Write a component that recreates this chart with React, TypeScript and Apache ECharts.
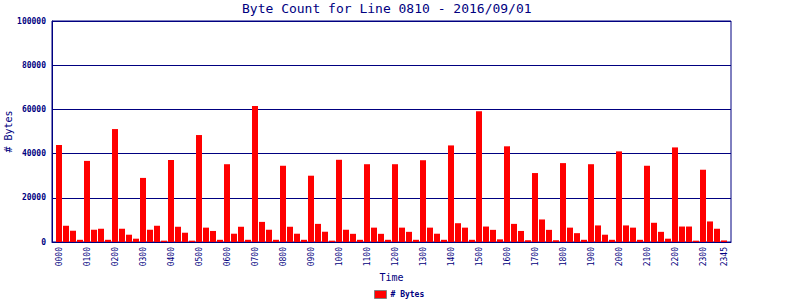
import React, { useEffect, useRef } from "react";
import * as echarts from "echarts";

const NAVY = "#000080";
const RED = "#ff0000";
const FONT = "DejaVu Sans Mono";

const titleText = "Byte Count for Line 0810 - 2016/09/01";
const seriesName = "# Bytes";

const hours = ["00","01","02","03","04","05","06","07","08","09","10","11","12","13","14","15","16","17","18","19","20","21","22","23"];
const quarters = ["00","15","30","45"];

// bytes per 15-minute interval, grouped by hour
const byteCounts: number[] = [
  43900, 7350, 5100, 1000,
  36700, 5550, 6000, 1000,
  51100, 6000, 3300, 1500,
  29000, 5550, 7350, 600,
  37100, 6900, 4200, 600,
  48400, 6500, 5000, 1000,
  35200, 3750, 6900, 1000,
  61500, 9100, 5550, 1000,
  34500, 6900, 3750, 1000,
  30000, 8200, 4650, 600,
  37200, 5550, 3700, 1000,
  35200, 6500, 3700, 1000,
  35200, 6500, 4600, 1000,
  37000, 6500, 3750, 1000,
  43700, 8500, 6500, 1000,
  59200, 7000, 5500, 1200,
  43300, 8200, 5000, 800,
  31200, 10200, 5500, 800,
  35700, 6500, 4000, 1000,
  35200, 7500, 3300, 1000,
  41000, 7500, 6500, 1000,
  34500, 8700, 4600, 1500,
  42800, 7000, 7000, 600,
  32700, 9300, 6000, 700,
];

const yMin = 0;
const yMax = 100000;
const yStep = 20000;

const times: string[] = [];
hours.forEach((h) => quarters.forEach((q) => times.push(h + q)));

export default function App() {
  const ref = useRef<HTMLDivElement>(null);
  useEffect(() => {
    if (!ref.current) return;
    const chart = echarts.init(ref.current, null, { renderer: "svg" });
    // one empty slot on each side, as in the reference
    const cats = ["", ...times, ""];
    const vals: (number | string)[] = ["-", ...byteCounts, "-"];
    const last = times.length;
    chart.setOption({
      animation: false,
      backgroundColor: "#ffffff",
      title: {
        text: titleText,
        left: 242,
        top: 0,
        padding: [2, 0, 0, 0],
        textStyle: { fontFamily: FONT, fontSize: 13, fontWeight: "normal", color: NAVY },
      },
      legend: {
        data: [seriesName],
        left: 374,
        top: 290,
        padding: 0,
        itemWidth: 12,
        itemHeight: 8,
        icon: "rect",
        itemStyle: { color: RED, borderColor: "#808080", borderWidth: 1 },
        textStyle: { fontFamily: FONT, fontSize: 8, fontWeight: "bold", color: NAVY, padding: [0, 0, 0, -1] },
      },
      grid: {
        left: 52,
        top: 21,
        width: 679,
        height: 221,
        containLabel: false,
        outerBoundsMode: "none",
        show: true,
        borderColor: NAVY,
        borderWidth: 1,
        backgroundColor: "transparent",
      },
      xAxis: {
        type: "category",
        data: cats,
        boundaryGap: false,
        name: "Time",
        nameLocation: "middle",
        nameGap: 30,
        nameMoveOverlap: false,
        nameTextStyle: { fontFamily: FONT, fontSize: 10, color: NAVY },
        axisLine: { lineStyle: { color: NAVY, width: 1 } },
        axisTick: { show: false },
        splitLine: { show: false },
        axisLabel: {
          rotate: 90,
          margin: 5,
          fontFamily: FONT,
          fontSize: 8,
          color: NAVY,
          interval: (i: number) => (i >= 1 && (i - 1) % 4 === 0) || i === last,
        },
      },
      yAxis: {
        type: "value",
        min: yMin,
        max: yMax,
        interval: yStep,
        name: seriesName,
        nameLocation: "middle",
        nameGap: 39,
        nameMoveOverlap: false,
        nameTextStyle: { fontFamily: FONT, fontSize: 10, color: NAVY },
        axisLine: { show: true, lineStyle: { color: NAVY, width: 1 } },
        axisTick: { show: false },
        splitLine: { show: true, lineStyle: { color: NAVY, width: 1 } },
        axisLabel: {
          margin: 6,
          fontFamily: FONT,
          fontSize: 8,
          fontWeight: "bold",
          color: NAVY,
          formatter: (v: number) => String(v),
        },
      },
      series: [
        {
          name: seriesName,
          type: "bar",
          data: vals,
          barWidth: 6,
          itemStyle: { color: RED },
        },
      ],
    });
    return () => chart.dispose();
  }, []);
  return <div ref={ref} style={{ width: 800, height: 300, position: "absolute", left: 0, top: 0 }} />;
}
